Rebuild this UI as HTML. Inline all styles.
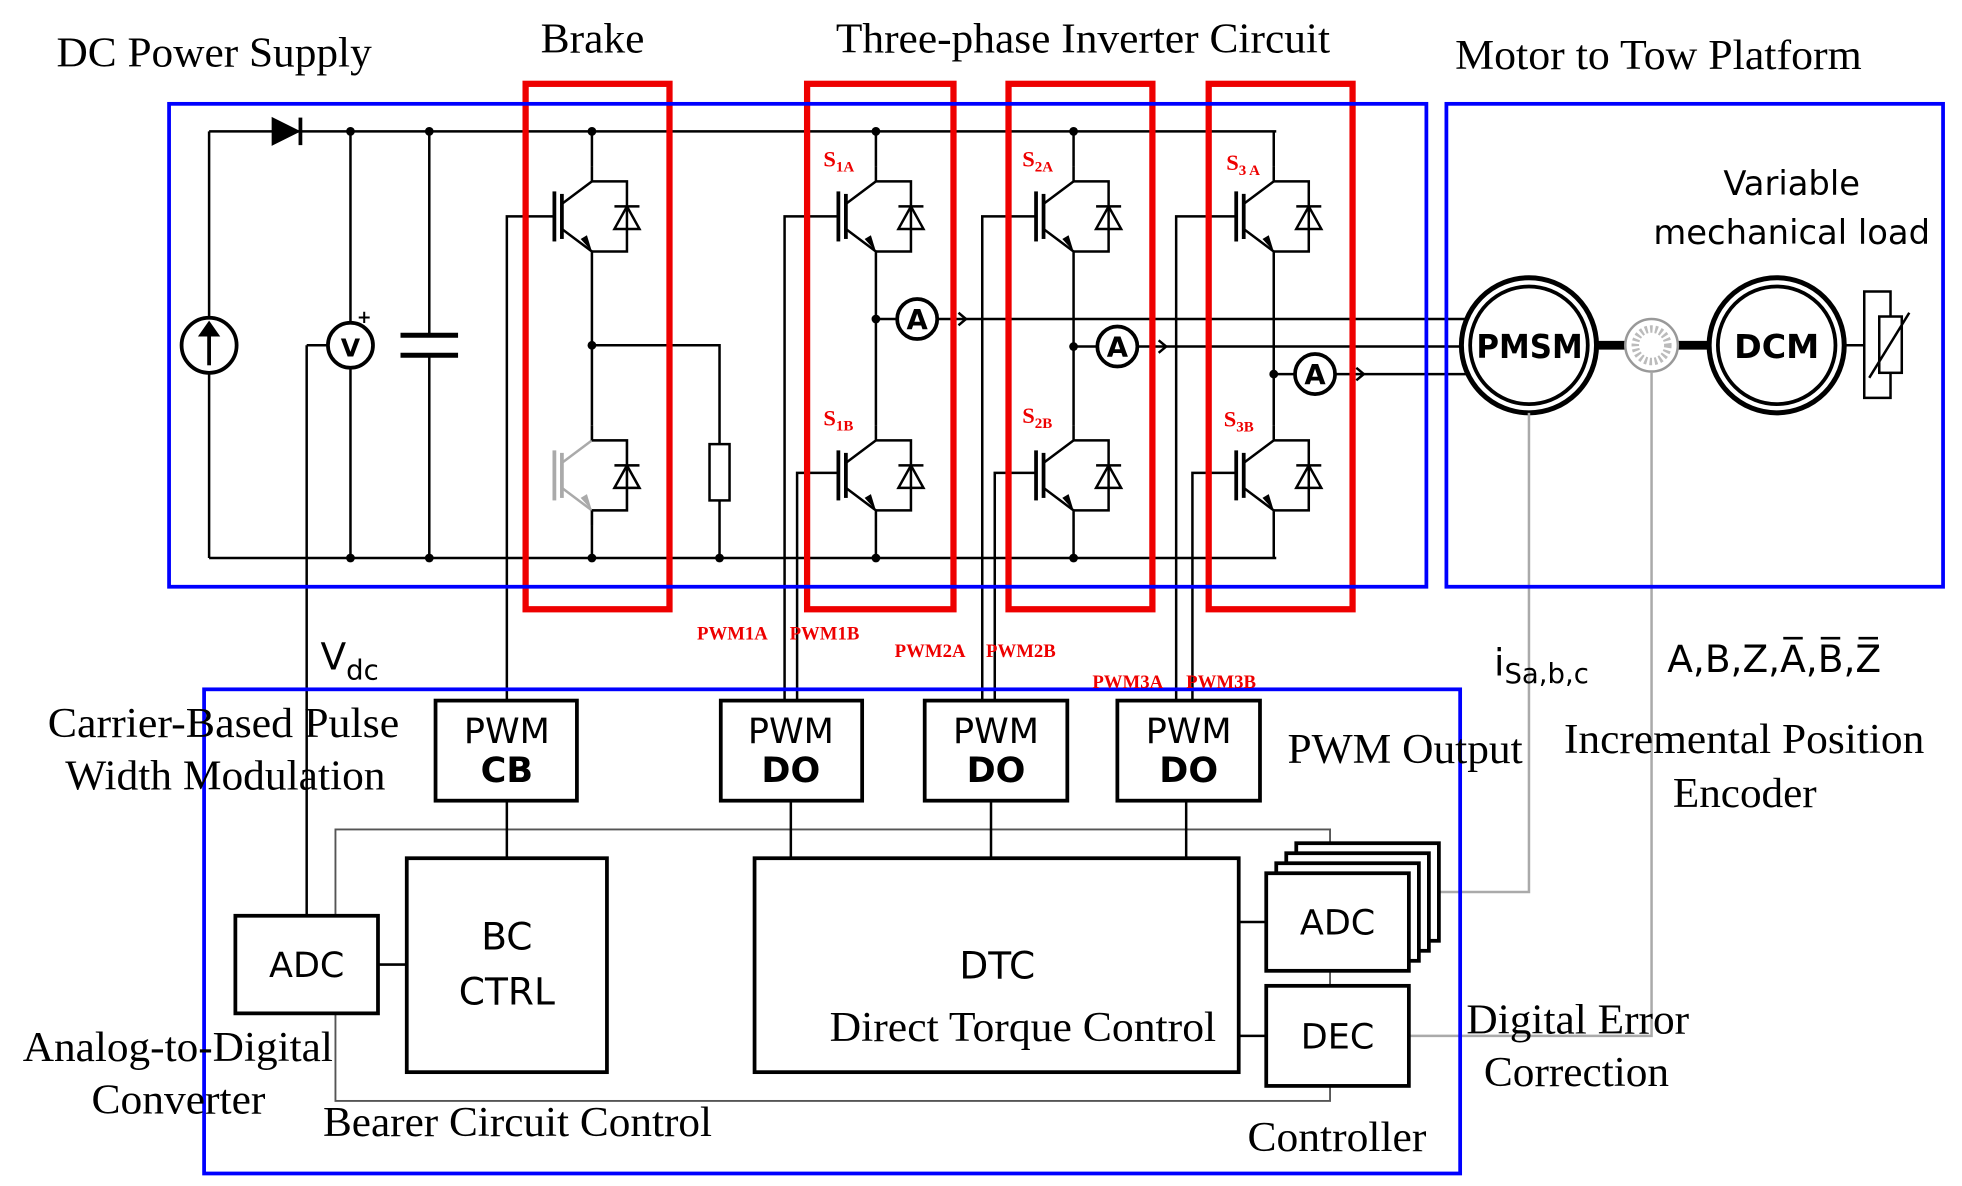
<!DOCTYPE html>
<html><head><meta charset="utf-8"><style>
html,body{margin:0;padding:0;background:#fff;}
svg{display:block;}
.s{font-family:"Liberation Serif",serif;}
.a{font-family:"DejaVu Sans","Liberation Sans",sans-serif;}
</style></head><body>
<svg width="1962" height="1186" viewBox="0 0 1568 948" xmlns="http://www.w3.org/2000/svg">
<defs>
<g id="sw">
 <line x1="-30" y1="20" x2="-30" y2="60" stroke-width="3"/>
 <line x1="-24" y1="22" x2="-24" y2="58" stroke-width="3"/>
 <polyline points="0,0 0,12 -24,30" fill="none"/>
 <polyline points="-24,50 0,68 0,80" fill="none"/>
 <polygon points="0,68 -9,58 -4,55" stroke="none"/>
 <polyline points="0,12 28,12 28,68 0,68" fill="none"/>
 <polygon points="18,50 38,50 28,32" fill="none"/>
 <line x1="18" y1="32" x2="38" y2="32"/>
</g>
</defs>
<rect width="1568" height="948" fill="#fff"/>
<g stroke="#000" stroke-width="2" fill="#000">
<line x1="167" y1="105" x2="1020" y2="105" fill="none"/>
<line x1="167" y1="446" x2="1020" y2="446"/>
<polygon points="218,95 218,115 238,105" fill="#000"/>
<line x1="240" y1="94" x2="240" y2="116" stroke-width="3"/>
<line x1="167" y1="105" x2="167" y2="254"/>
<line x1="167" y1="298" x2="167" y2="446"/>
<circle cx="167" cy="276" r="22" fill="none" stroke-width="3"/>
<line x1="167" y1="292" x2="167" y2="264" stroke-width="3"/>
<polygon points="160,268 174,268 167,258"/>
<line x1="280" y1="105" x2="280" y2="258"/>
<line x1="280" y1="294" x2="280" y2="446"/>
<circle cx="280" cy="276" r="18" fill="#fff" stroke-width="3"/>
<line x1="262" y1="276" x2="245" y2="276"/>
<line x1="245" y1="276" x2="245" y2="732"/>
<line x1="343" y1="105" x2="343" y2="268"/>
<line x1="343" y1="284" x2="343" y2="446"/>
<line x1="320" y1="268" x2="366" y2="268" stroke-width="4"/>
<line x1="320" y1="284" x2="366" y2="284" stroke-width="4"/>
<g stroke="none">
<circle cx="280" cy="105" r="3.5"/><circle cx="343" cy="105" r="3.5"/><circle cx="280" cy="446" r="3.5"/><circle cx="343" cy="446" r="3.5"/>
<circle cx="473" cy="105" r="3.5"/><circle cx="473" cy="446" r="3.5"/><circle cx="575" cy="446" r="3.5"/><circle cx="473" cy="276" r="3.5"/>
<circle cx="700" cy="105" r="3.5"/><circle cx="700" cy="446" r="3.5"/><circle cx="700" cy="255" r="3.5"/>
<circle cx="858" cy="105" r="3.5"/><circle cx="858" cy="446" r="3.5"/><circle cx="858" cy="277" r="3.5"/>
<circle cx="1018" cy="299" r="3.5"/>
</g>
<line x1="473" y1="105" x2="473" y2="133"/>
<use href="#sw" x="473" y="133"/>
<line x1="473" y1="213" x2="473" y2="340"/>
<use href="#sw" x="473" y="340" stroke="#aaa" fill="#aaa"/>
<g><polyline points="473,352 501,352 501,408 473,408" fill="none"/><polygon points="491,390 511,390 501,372" fill="none"/><line x1="491" y1="372" x2="511" y2="372"/><line x1="473" y1="340" x2="473" y2="352"/><line x1="473" y1="408" x2="473" y2="420"/></g>
<line x1="473" y1="420" x2="473" y2="446"/>
<polyline points="473,276 575,276 575,355" fill="none"/>
<rect x="567" y="355" width="16" height="45" fill="#fff"/>
<line x1="575" y1="400" x2="575" y2="446"/>
<polyline points="443,173 405,173 405,560" fill="none"/>
<g>
<line x1="700" y1="105" x2="700" y2="133"/><use href="#sw" x="700" y="133"/>
<line x1="700" y1="213" x2="700" y2="340"/><use href="#sw" x="700" y="340"/>
<line x1="700" y1="420" x2="700" y2="446"/>
</g>
<g>
<line x1="858" y1="105" x2="858" y2="133"/><use href="#sw" x="858" y="133"/>
<line x1="858" y1="213" x2="858" y2="340"/><use href="#sw" x="858" y="340"/>
<line x1="858" y1="420" x2="858" y2="446"/>
</g>
<g>
<line x1="1018" y1="105" x2="1018" y2="133"/><use href="#sw" x="1018" y="133"/>
<line x1="1018" y1="213" x2="1018" y2="340"/><use href="#sw" x="1018" y="340"/>
<line x1="1018" y1="420" x2="1018" y2="446"/>
</g>
<polyline points="670,173 627,173 627,560" fill="none"/>
<polyline points="670,378 637,378 637,560" fill="none"/>
<polyline points="828,173 785,173 785,560" fill="none"/>
<polyline points="828,378 795,378 795,560" fill="none"/>
<polyline points="988,173 940,173 940,560" fill="none"/>
<polyline points="988,378 953,378 953,560" fill="none"/>
<line x1="700" y1="255" x2="1175" y2="255"/>
<line x1="858" y1="277" x2="1175" y2="277"/>
<line x1="1018" y1="299" x2="1175" y2="299"/>
<circle cx="733" cy="255" r="16" fill="#fff" stroke-width="3"/>
<circle cx="893" cy="277" r="16" fill="#fff" stroke-width="3"/>
<circle cx="1051" cy="299" r="16" fill="#fff" stroke-width="3"/>
<polyline points="766,250 772,255 766,260" fill="none"/>
<polyline points="926,272 932,277 926,282" fill="none"/>
<polyline points="1084,294 1090,299 1084,304" fill="none"/>
</g>
<g class="a" font-size="22" font-weight="bold" text-anchor="middle">
<text x="733" y="263">A</text><text x="893" y="285">A</text><text x="1051" y="307">A</text>
<text x="280" y="285" font-size="20">V</text><text x="291" y="258" font-size="14">+</text>
</g>
<g stroke="#000" fill="none">
<line x1="1272" y1="276" x2="1370" y2="276" stroke-width="7"/>
<circle cx="1222" cy="276" r="54" stroke-width="4" fill="#fff"/>
<circle cx="1222" cy="276" r="47" stroke-width="3"/>
<circle cx="1420" cy="276" r="54" stroke-width="4" fill="#fff"/>
<circle cx="1420" cy="276" r="47" stroke-width="3"/>
<circle cx="1320" cy="276" r="21" stroke="#999" stroke-width="2" fill="#fff"/>
<circle cx="1320" cy="276" r="13" stroke="#bbb" stroke-width="6" stroke-dasharray="2 2"/>
<polyline points="1474,276 1490,276 1490,233 1511,233 1511,253" stroke-width="2"/>
<polyline points="1511,298 1511,318 1490,318 1490,276" stroke-width="2"/>
<rect x="1502" y="253" width="18" height="45" stroke-width="2" fill="#fff"/>
<line x1="1494" y1="302" x2="1526" y2="250" stroke-width="2"/>
<polyline points="1222,330 1222,713 1150,713" stroke="#aaa" stroke-width="2"/>
<polyline points="1320,297 1320,828 1126,828" stroke="#aaa" stroke-width="2"/>
</g>
<g class="a" font-weight="bold" font-size="26">
<text x="1180" y="286" textLength="85" lengthAdjust="spacingAndGlyphs">PMSM</text>
<text x="1386" y="286" textLength="68" lengthAdjust="spacingAndGlyphs">DCM</text>
</g>
<g stroke="#000" fill="none" stroke-width="2">
<rect x="268" y="663" width="795" height="217" stroke="#555" stroke-width="1.5"/>
<line x1="405" y1="640" x2="405" y2="686"/>
<line x1="632" y1="640" x2="632" y2="686"/>
<line x1="792" y1="640" x2="792" y2="686"/>
<line x1="948" y1="640" x2="948" y2="686"/>
<line x1="302" y1="771" x2="325" y2="771"/>
<line x1="990" y1="737" x2="1012" y2="737"/>
<line x1="990" y1="828" x2="1012" y2="828"/>
<g stroke-width="3" fill="#fff">
<rect x="348" y="560" width="113" height="80"/>
<rect x="576" y="560" width="113" height="80"/>
<rect x="739" y="560" width="114" height="80"/>
<rect x="893" y="560" width="114" height="80"/>
<rect x="325" y="686" width="160" height="171"/>
<rect x="603" y="686" width="387" height="171"/>
<rect x="188" y="732" width="114" height="78"/>
<rect x="1036" y="674" width="114" height="78"/>
<rect x="1028" y="682" width="114" height="78"/>
<rect x="1020" y="690" width="114" height="78"/>
<rect x="1012" y="698" width="114" height="78"/>
<rect x="1012" y="788" width="114" height="80"/>
</g>
</g>
<g class="a" text-anchor="middle" font-size="28" fill="#000">
<text x="405" y="594">PWM</text><text x="405" y="625" font-weight="bold">CB</text>
<text x="632" y="594">PWM</text><text x="632" y="625" font-weight="bold">DO</text>
<text x="796" y="594">PWM</text><text x="796" y="625" font-weight="bold">DO</text>
<text x="950" y="594">PWM</text><text x="950" y="625" font-weight="bold">DO</text>
<text x="405" y="759" font-size="30">BC</text><text x="405" y="803" font-size="30">CTRL</text>
<text x="797" y="782" font-size="30">DTC</text>
<text x="245" y="781">ADC</text>
<text x="1069" y="747">ADC</text>
<text x="1069" y="838">DEC</text>
<text x="1432" y="156" font-size="27">Variable</text>
<text x="1432" y="195" font-size="27">mechanical load</text>
<text x="1232" y="540" font-size="30">i<tspan font-size="22" dy="6">Sa,b,c</tspan></text>
<text x="1418" y="537" font-size="30">A,B,Z,A̅,B̅,Z̅</text>
<text x="256" y="535" font-size="30" text-anchor="start">V<tspan font-size="22" dy="8">dc</tspan></text>
</g>
<g stroke="#e00" stroke-width="5" fill="none">
<rect x="420" y="67" width="115" height="420"/>
<rect x="645" y="67" width="117" height="420"/>
<rect x="806" y="67" width="115" height="420"/>
<rect x="966" y="67" width="115" height="420"/>
</g>
<g stroke="#00f" stroke-width="3" fill="none">
<rect x="135" y="83" width="1005" height="386"/>
<rect x="1156" y="83" width="397" height="386"/>
<rect x="163" y="551" width="1004" height="387"/>
</g>
<g class="s" fill="#e00" font-weight="bold" font-size="18">
<text x="658" y="133">S<tspan font-size="12" dy="4">1A</tspan></text>
<text x="817" y="133">S<tspan font-size="12" dy="4">2A</tspan></text>
<text x="980" y="136">S<tspan font-size="12" dy="4">3 A</tspan></text>
<text x="658" y="340">S<tspan font-size="12" dy="4">1B</tspan></text>
<text x="817" y="338">S<tspan font-size="12" dy="4">2B</tspan></text>
<text x="978" y="341">S<tspan font-size="12" dy="4">3B</tspan></text>
<g font-size="15">
<text x="557" y="511">PWM1A</text><text x="631" y="511">PWM1B</text>
<text x="715" y="525">PWM2A</text><text x="788" y="525">PWM2B</text>
<text x="873" y="550">PWM3A</text><text x="948" y="550">PWM3B</text>
</g>
</g>
<g class="s" fill="#000" font-size="34" lengthAdjust="spacingAndGlyphs">
<text x="45" y="53" textLength="252" lengthAdjust="spacingAndGlyphs">DC Power Supply</text>
<text x="432" y="42" textLength="83" lengthAdjust="spacingAndGlyphs">Brake</text>
<text x="668" y="42" textLength="395" lengthAdjust="spacingAndGlyphs">Three-phase Inverter Circuit</text>
<text x="1163" y="55" textLength="325" lengthAdjust="spacingAndGlyphs">Motor to Tow Platform</text>
<text x="38" y="589" textLength="281" lengthAdjust="spacingAndGlyphs">Carrier-Based Pulse</text>
<text x="52" y="631" textLength="256" lengthAdjust="spacingAndGlyphs">Width Modulation</text>
<text x="1029" y="610" textLength="188" lengthAdjust="spacingAndGlyphs">PWM Output</text>
<text x="1250" y="602" textLength="288" lengthAdjust="spacingAndGlyphs">Incremental Position</text>
<text x="1337" y="645" textLength="115" lengthAdjust="spacingAndGlyphs">Encoder</text>
<text x="18" y="848" textLength="248" lengthAdjust="spacingAndGlyphs">Analog-to-Digital</text>
<text x="73" y="890" textLength="139" lengthAdjust="spacingAndGlyphs">Converter</text>
<text x="258" y="908" textLength="311" lengthAdjust="spacingAndGlyphs">Bearer Circuit Control</text>
<text x="663" y="832" textLength="309" lengthAdjust="spacingAndGlyphs">Direct Torque Control</text>
<text x="1172" y="826" textLength="178" lengthAdjust="spacingAndGlyphs">Digital Error</text>
<text x="1186" y="868" textLength="148" lengthAdjust="spacingAndGlyphs">Correction</text>
<text x="997" y="920" textLength="143" lengthAdjust="spacingAndGlyphs">Controller</text>
</g>
</svg>
</body></html>
